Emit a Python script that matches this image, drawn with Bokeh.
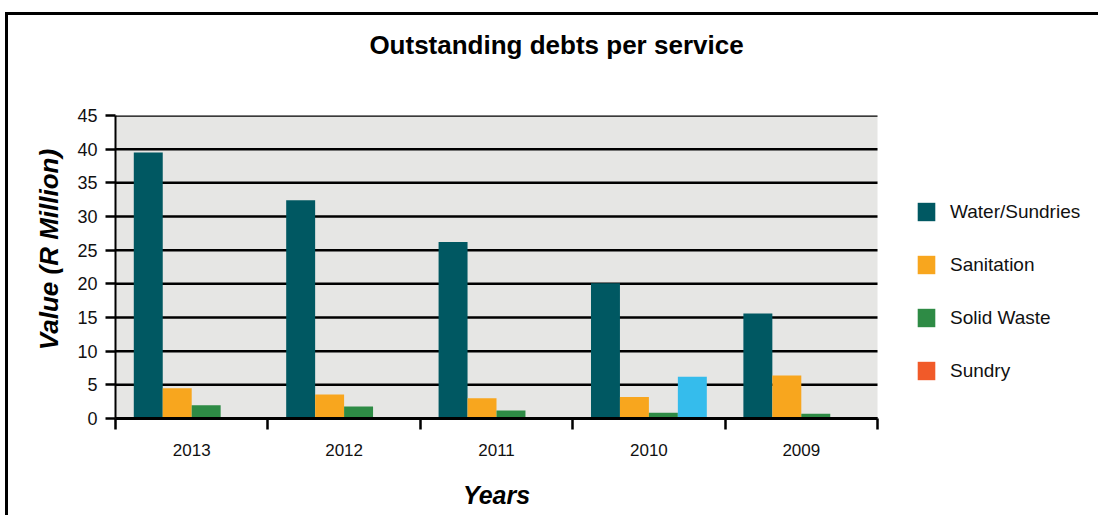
from bokeh.plotting import figure
from bokeh.models import ColumnDataSource, FixedTicker, Legend, LegendItem, LinearAxis
from bokeh.embed import file_html
from bokeh.resources import INLINE

# ---- data ----
years = ["2013", "2012", "2011", "2010", "2009"]
water_sundries = [39.5, 32.4, 26.2, 20.1, 15.6]
sanitation = [4.5, 3.55, 3.0, 3.2, 6.4]
solid_waste = [1.95, 1.8, 1.2, 0.85, 0.7]
sundry = [0, 0, 0, 6.2, 0]
sundry_colors = ["#F15A29", "#F15A29", "#F15A29", "#35BCEC", "#F15A29"]
y_ticks = [0, 5, 10, 15, 20, 25, 30, 35, 40, 45]

series_names = ["Water/Sundries", "Sanitation", "Solid Waste", "Sundry"]
series_values = [water_sundries, sanitation, solid_waste, sundry]
series_colors = ["#005862", "#F8A61E", "#2E8B45", "#F15A29"]

title_text = "Outstanding debts per service"
x_title = "Years"
y_title = "Value (R Million)"

FONT = "Liberation Sans"

n = len(years)
# layout: the frame runs to the right edge (room for the legend); data area is 762 x 303 px
CANVAS_W, CANVAS_H = 1093, 503
LEFT, TOP, BOTTOM = 107, 100, 100
frame_px = CANVAS_W - LEFT
data_px, data_py = 762, 303
x_end = n * frame_px / data_px
title_center = n * 441 / data_px                  # title centred over the whole picture
y_title_at = y_ticks[-1] * 169 / data_py          # y-axis title sits a little above mid-height

p = figure(width=CANVAS_W, height=CANVAS_H, output_backend="svg", toolbar_location=None,
           x_range=(0, x_end), y_range=(y_ticks[0], y_ticks[-1]),
           min_border_left=LEFT, min_border_right=0, min_border_top=TOP, min_border_bottom=BOTTOM,
           background_fill_color="white", border_fill_color="white")
p.outline_line_color = None
p.styles = {"position": "relative", "left": "8px", "top": "15px",
            "box-shadow": "-3px -3px 0 0 black"}

# plot-area background and horizontal grid lines limited to the category span
p.quad(left=[0], right=[n], bottom=[y_ticks[0]], top=[y_ticks[-1]],
       fill_color="#E6E6E4", line_color=None, level="image")
p.segment(x0=[0] * len(y_ticks), x1=[n] * len(y_ticks), y0=y_ticks, y1=y_ticks,
          line_color="black", line_width=2.5, level="underlay")

bar_w = 0.19
centers = [i + 0.5 for i in range(n)]
items = []
for k, (name, vals, col) in enumerate(zip(series_names, series_values, series_colors)):
    off = (k - 1.5) * bar_w
    data = dict(x=[c + off for c in centers], top=vals, year=years)
    if name == "Sundry":
        data["color"] = sundry_colors
        fill = "color"
    else:
        fill = col
    src = ColumnDataSource(data)
    r = p.vbar(x="x", top="top", bottom=0, width=bar_w, source=src,
               fill_color=fill, line_color=None)
    items.append(LegendItem(label=name, renderers=[r], index=0))

legend = Legend(items=items, location=(800, 36), margin=0, padding=0,
                glyph_width=22, glyph_height=23, label_height=20, spacing=30,
                label_standoff=13, label_text_font=FONT, label_text_font_size="19px",
                label_text_color="#111111", background_fill_alpha=0, border_line_color=None)
p.add_layout(legend)

# y axis
p.yaxis.ticker = FixedTicker(ticks=y_ticks)
p.yaxis.axis_line_color = "black"
p.yaxis.axis_line_width = 2
p.yaxis.major_tick_out = 10
p.yaxis.major_tick_in = 0
p.yaxis.major_tick_line_width = 2.5
p.yaxis.minor_tick_line_color = None
p.yaxis.major_label_standoff = 8
p.yaxis.major_label_text_font = FONT
p.yaxis.major_label_text_font_size = "18px"
p.yaxis.major_label_text_color = "#111111"

ylab = LinearAxis(ticker=FixedTicker(ticks=[y_title_at], minor_ticks=[]),
                  major_label_overrides={y_title_at: y_title},
                  major_label_orientation="parallel",
                  axis_line_color=None, major_tick_line_color=None, minor_tick_line_color=None,
                  major_label_standoff=5, major_label_text_font=FONT,
                  major_label_text_font_size="26px", major_label_text_font_style="bold italic",
                  major_label_text_color="black")
p.add_layout(ylab, "left")

# x axis: labels at category centres, ticks at boundaries
p.xaxis.bounds = (0, n)
p.xaxis.ticker = FixedTicker(ticks=centers, minor_ticks=list(range(n + 1)))
p.xaxis.major_label_overrides = {c: y for c, y in zip(centers, years)}
p.xaxis.axis_line_color = "black"
p.xaxis.axis_line_width = 3
p.xaxis.major_tick_out = 0
p.xaxis.major_tick_in = 0
p.xaxis.minor_tick_out = 11
p.xaxis.minor_tick_in = 0
p.xaxis.minor_tick_line_width = 2.5
p.xaxis.minor_tick_line_color = "black"
p.xaxis.major_label_standoff = 14
p.xaxis.major_label_text_font = FONT
p.xaxis.major_label_text_font_size = "17px"
p.xaxis.major_label_text_color = "#111111"

# x-axis title, centred under the categories (not under the whole frame)
xlab = LinearAxis(ticker=FixedTicker(ticks=[n / 2], minor_ticks=[]),
                  major_label_overrides={n / 2: x_title},
                  axis_line_color=None, major_tick_line_color=None, minor_tick_line_color=None,
                  major_label_standoff=16, major_label_text_font=FONT,
                  major_label_text_font_size="25px", major_label_text_font_style="bold italic",
                  major_label_text_color="black")
p.add_layout(xlab, "below")

# chart title, centred over the picture
tlab = LinearAxis(ticker=FixedTicker(ticks=[title_center], minor_ticks=[]),
                  major_label_overrides={title_center: title_text},
                  axis_line_color=None, major_tick_line_color=None, minor_tick_line_color=None,
                  major_label_standoff=50, major_label_text_font=FONT,
                  major_label_text_font_size="26px", major_label_text_font_style="bold",
                  major_label_text_color="black")
p.add_layout(tlab, "above")

p.xgrid.grid_line_color = None
p.ygrid.grid_line_color = None

open("out.html", "w").write(file_html(p, INLINE))
